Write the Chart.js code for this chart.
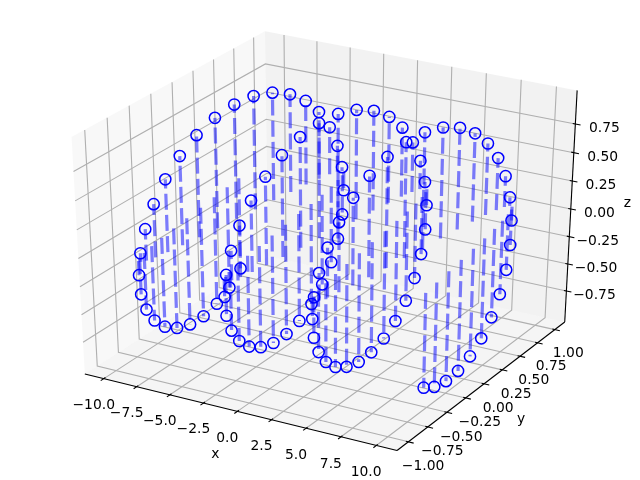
<!DOCTYPE html>
<html><head><meta charset="utf-8">
<style>html,body{margin:0;padding:0;background:#fff}canvas{display:block}</style>
<script src="https://cdn.jsdelivr.net/npm/chart.js@4"></script>
</head><body><canvas id="c" width="640" height="480"></canvas>
<script>
const xValues=[-10.000,-9.798,-9.596,-9.394,-9.192,-8.990,-8.788,-8.586,-8.384,-8.182,-7.980,-7.778,-7.576,-7.374,-7.172,-6.970,-6.768,-6.566,-6.364,-6.162,-5.960,-5.758,-5.556,-5.354,-5.152,-4.949,-4.747,-4.545,-4.343,-4.141,-3.939,-3.737,-3.535,-3.333,-3.131,-2.929,-2.727,-2.525,-2.323,-2.121,-1.919,-1.717,-1.515,-1.313,-1.111,-0.909,-0.707,-0.505,-0.303,-0.101,
0.101,0.303,0.505,0.707,0.909,1.111,1.313,1.515,1.717,1.919,2.121,2.323,2.525,2.727,2.929,3.131,3.333,3.535,3.737,3.939,4.141,4.343,4.545,4.747,4.949,5.152,5.354,5.556,5.758,5.960,6.162,6.364,6.566,6.768,6.970,7.172,7.374,7.576,7.778,7.980,8.182,8.384,8.586,8.788,8.990,9.192,9.394,9.596,9.798,10.000];
const yValues=[0.544,0.365,0.170,-0.031,-0.231,-0.421,-0.595,-0.744,-0.863,-0.947,-0.992,-0.997,-0.962,-0.887,-0.776,-0.634,-0.466,-0.279,-0.080,0.121,0.318,0.502,0.665,0.801,0.905,0.972,0.999,0.986,0.933,0.841,0.716,0.561,0.384,0.191,-0.010,-0.211,-0.403,-0.578,-0.730,-0.852,-0.940,-0.989,-0.998,-0.967,-0.896,-0.789,-0.650,-0.484,-0.298,-0.101,
0.101,0.298,0.484,0.650,0.789,0.896,0.967,0.998,0.989,0.940,0.852,0.730,0.578,0.403,0.211,0.010,-0.191,-0.384,-0.561,-0.716,-0.841,-0.933,-0.986,-0.999,-0.972,-0.905,-0.801,-0.665,-0.502,-0.318,-0.121,0.080,0.279,0.466,0.634,0.776,0.887,0.962,0.997,0.992,0.947,0.863,0.744,0.595,0.421,0.231,0.031,-0.170,-0.365,-0.544];
const zValues=[-0.839,-0.931,-0.985,-1.000,-0.973,-0.907,-0.804,-0.668,-0.505,-0.322,-0.125,0.076,0.275,0.462,0.631,0.773,0.885,0.960,0.997,0.993,0.948,0.865,0.747,0.598,0.425,0.235,0.035,-0.166,-0.361,-0.540,-0.698,-0.828,-0.923,-0.982,-1.000,-0.978,-0.915,-0.816,-0.683,-0.523,-0.341,-0.146,0.056,0.255,0.444,0.614,0.760,0.875,0.954,0.995,
0.995,0.954,0.875,0.760,0.614,0.444,0.255,0.056,-0.146,-0.341,-0.523,-0.683,-0.816,-0.915,-0.978,-1.000,-0.982,-0.923,-0.828,-0.698,-0.540,-0.361,-0.166,0.035,0.235,0.425,0.598,0.747,0.865,0.948,0.993,0.997,0.960,0.885,0.773,0.631,0.462,0.275,0.076,-0.125,-0.322,-0.505,-0.668,-0.804,-0.907,-0.973,-1.000,-0.985,-0.931,-0.839];
const xTicks=[-10,-7.5,-5,-2.5,0,2.5,5,7.5,10];
const xTickLabels=['\u221210.0','\u22127.5','\u22125.0','\u22122.5','0.0','2.5','5.0','7.5','10.0'];
const yTicks=[-1,-0.75,-0.5,-0.25,0,0.25,0.5,0.75,1];
const yTickLabels=['\u22121.00','\u22120.75','\u22120.50','\u22120.25','0.00','0.25','0.50','0.75','1.00'];
const zTicks=[-0.75,-0.5,-0.25,0,0.25,0.5,0.75];
const zTickLabels=['\u22120.75','\u22120.50','\u22120.25','0.00','0.25','0.50','0.75'];
const xLimits=[-11,11];
const yLimits=[-1.099,1.099];
const zLimits=[-1,0.997];

// mplot3d camera: azimuth -60, elevation 30, distance 10, unit cube
const az=-60*Math.PI/180, el=30*Math.PI/180, dist=10;
const n=[Math.cos(el)*Math.cos(az),Math.cos(el)*Math.sin(az),Math.sin(el)];
const eye=n.map(v=>0.5+dist*v);
const unorm=Math.hypot(-n[1],n[0]);
const u=[-n[1]/unorm,n[0]/unorm,0];
const v=[n[1]*u[2]-n[2]*u[1],n[2]*u[0]-n[0]*u[2],n[0]*u[1]-n[1]*u[0]];
const dot=(a,b)=>a[0]*b[0]+a[1]*b[1]+a[2]*b[2];
function project(p){
  const w=[(p[0]-xLimits[0])/(xLimits[1]-xLimits[0])-eye[0],(p[1]-yLimits[0])/(yLimits[1]-yLimits[0])-eye[1],(p[2]-zLimits[0])/(zLimits[1]-zLimits[0])-eye[2]];
  const d=-dot(n,w);
  return {x:dot(u,w)/d,y:dot(v,w)/d};
}
const delta=[(xLimits[1]-xLimits[0])/12,(yLimits[1]-yLimits[0])/12,(zLimits[1]-zLimits[0])/12];
const mins=[xLimits[0]-delta[0]/4,yLimits[0]-delta[1]/4,zLimits[0]-delta[2]/4];
const maxs=[xLimits[1]+delta[0]/4,yLimits[1]+delta[1]/4,zLimits[1]+delta[2]/4];
const centers=[0,1,2].map(i=>(mins[i]+maxs[i])/2);
function moved(p,k,skip){return p.map((c,i)=>i===skip?c:(c>=centers[i]?c+k*delta[i]:c-k*delta[i]));}
const perPoint=48/(72*(6.4+4.8));

const ds=[];
function line(pts,color,width,order,extra){
  ds.push(Object.assign({data:pts.map(project),showLine:true,fill:false,borderColor:color,borderWidth:width,pointRadius:0,tension:0,order:order,borderCapStyle:'butt'},extra||{}));
}
// panes
function pane(pts,color){line(pts,'rgba(0,0,0,0)',0,9,{fill:'shape',backgroundColor:color});}
pane([[mins[0],mins[1],mins[2]],[mins[0],maxs[1],mins[2]],[mins[0],maxs[1],maxs[2]],[mins[0],mins[1],maxs[2]]],'rgba(242,242,242,0.5)');
pane([[mins[0],maxs[1],mins[2]],[maxs[0],maxs[1],mins[2]],[maxs[0],maxs[1],maxs[2]],[mins[0],maxs[1],maxs[2]]],'rgba(230,230,230,0.5)');
pane([[mins[0],mins[1],mins[2]],[maxs[0],mins[1],mins[2]],[maxs[0],maxs[1],mins[2]],[mins[0],maxs[1],mins[2]]],'rgba(236,236,236,0.5)');
// grid
const gridColor='#b0b0b0', gw=1.11;
xTicks.forEach(t=>line([[t,mins[1],mins[2]],[t,maxs[1],mins[2]],[t,maxs[1],maxs[2]]],gridColor,gw,8));
yTicks.forEach(t=>line([[maxs[0],t,mins[2]],[mins[0],t,mins[2]],[mins[0],t,maxs[2]]],gridColor,gw,8));
zTicks.forEach(t=>line([[maxs[0],maxs[1],t],[mins[0],maxs[1],t],[mins[0],mins[1],t]],gridColor,gw,8));
// axes lines and tick marks
line([[mins[0],mins[1],mins[2]],[maxs[0],mins[1],mins[2]]],'#000',1.11,7);
line([[maxs[0],maxs[1],mins[2]],[maxs[0],mins[1],mins[2]]],'#000',1.11,7);
line([[maxs[0],maxs[1],mins[2]],[maxs[0],maxs[1],maxs[2]]],'#000',1.11,7);
xTicks.forEach(t=>line([[t,mins[1]+0.1*delta[1],mins[2]],[t,mins[1]-0.2*delta[1],mins[2]]],'#000',1.11,7));
yTicks.forEach(t=>line([[maxs[0]-0.1*delta[0],t,mins[2]],[maxs[0]+0.2*delta[0],t,mins[2]]],'#000',1.11,7));
zTicks.forEach(t=>line([[maxs[0]-0.1*delta[0],maxs[1],t],[maxs[0]+0.2*delta[0],maxs[1],t]],'#000',1.11,7));
// stems
xValues.forEach((x,i)=>line([[x,yValues[i],0],[x,yValues[i],zValues[i]]],'rgba(0,0,255,0.5)',3.2,2,{borderDash:[16,5.2]}));
// markers
ds.push({data:xValues.map((x,i)=>project([x,yValues[i],zValues[i]])),showLine:false,pointRadius:5.6,pointBorderWidth:1.5,pointBorderColor:'#0000ff',pointBackgroundColor:'rgba(0,0,0,0)',order:0});

const labelPlugin={id:'labels3d',afterDraw(chart){
  const c=chart.ctx,sx=chart.scales.x,sy=chart.scales.y;
  c.save();c.font='13.89px "DejaVu Sans"';c.fillStyle='#000';c.textAlign='center';c.textBaseline='middle';
  const put=(p,s,dx,dy)=>{const q=project(p);c.fillText(s,sx.getPixelForValue(q.x)+dx,sy.getPixelForValue(q.y)+dy);};
  const tk=(3.5+8)*perPoint, lk=(4+21)*perPoint;
  xTicks.forEach((t,i)=>put(moved([t,mins[1],mins[2]],tk,0),xTickLabels[i],0,7));
  yTicks.forEach((t,i)=>put(moved([maxs[0],t,mins[2]],tk,1),yTickLabels[i],-3,8));
  zTicks.forEach((t,i)=>put(moved([maxs[0],maxs[1],t],tk,2),zTickLabels[i],2.5,7));
  put(moved([centers[0],mins[1],mins[2]],lk,0),'x',0,0);
  put(moved([maxs[0],centers[1],mins[2]],lk,1),'y',0,0);
  put(moved([maxs[0],maxs[1],centers[2]],lk,2),'z',0,0);
  c.restore();
}};
new Chart(document.getElementById('c'),{type:'scatter',data:{datasets:ds},plugins:[labelPlugin],options:{
  responsive:false,animation:false,devicePixelRatio:1,layout:{padding:0,autoPadding:false},
  plugins:{legend:{display:false},tooltip:{enabled:false},title:{display:false}},
  events:[],
  scales:{x:{type:'linear',display:false,min:-0.095,max:0.09},y:{type:'linear',display:false,min:-0.095,max:0.09}}
}});
</script></body></html>
